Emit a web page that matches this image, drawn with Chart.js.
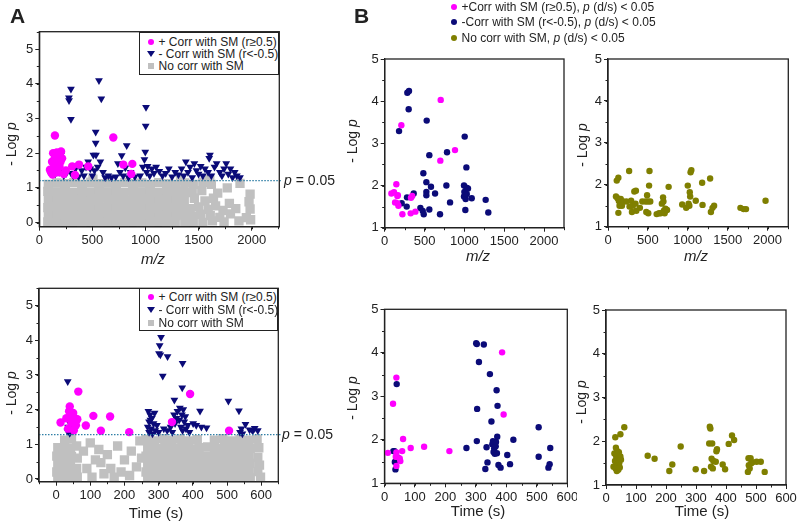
<!DOCTYPE html>
<html>
<head>
<meta charset="utf-8">
<script src="https://cdn.jsdelivr.net/npm/chart.js@4.4.0/dist/chart.umd.min.js"></script>
<style>
    body {
        margin: 0;
        background: #fff;
        width: 799px;
        height: 522px;
        position: relative;
        overflow: hidden;
        font-family: 'Liberation Sans', Arial, sans-serif;
        color: #222;
    }
    canvas { position: absolute; }
    .t { position: absolute; white-space: nowrap; line-height: 1; }
    .c { transform: translate(-50%, -50%); }
    .r { transform: translate(-50%, -50%) rotate(-90deg); }
    .box {
        position: absolute;
        box-sizing: border-box;
        border: 1.3px solid #222;
        background: #fff;
    }
    .row { position: absolute; transform: translateY(-50%); font-size: 12px; white-space: nowrap; line-height: 1; }
    .mk { position: absolute; transform: translate(-50%, -50%); }
    .dot { width: 6px; height: 6px; border-radius: 50%; }
    .tri { width: 0; height: 0; border-left: 4px solid transparent; border-right: 4px solid transparent; border-top: 6px solid #0b0b78; }
    .sq { width: 6px; height: 6px; background: #c0c0c0; }
</style>
</head>
<body>
<canvas id="aMz"></canvas>
<canvas id="aTime"></canvas>
<canvas id="bPosNegMz"></canvas>
<canvas id="bNoneMz"></canvas>
<canvas id="bPosNegTime"></canvas>
<canvas id="bNoneTime"></canvas>

<div class="t" style="left:10px;top:5px;font-size:21px;font-weight:bold">A</div>
<div class="t" style="left:354px;top:5px;font-size:21px;font-weight:bold">B</div>

<!-- axis titles -->
<div class="t r" style="left:11px;top:144px;font-size:14px">- Log <i>p</i></div>
<div class="t r" style="left:11px;top:393px;font-size:14px">- Log <i>p</i></div>
<div class="t r" style="left:352px;top:141px;font-size:14px">- Log <i>p</i></div>
<div class="t r" style="left:582px;top:145px;font-size:14px">- Log <i>p</i></div>
<div class="t r" style="left:352px;top:398px;font-size:14px">- Log <i>p</i></div>
<div class="t r" style="left:581px;top:402px;font-size:14px">- Log <i>p</i></div>
<div class="t c" style="left:153px;top:258px;font-size:15px"><i>m/z</i></div>
<div class="t c" style="left:156px;top:512px;font-size:15px">Time (s)</div>
<div class="t c" style="left:478px;top:255px;font-size:15px"><i>m/z</i></div>
<div class="t c" style="left:696px;top:255px;font-size:15px"><i>m/z</i></div>
<div class="t c" style="left:478px;top:510px;font-size:15px">Time (s)</div>
<div class="t c" style="left:702px;top:510px;font-size:15px">Time (s)</div>

<!-- p = 0.05 labels -->
<div class="t" style="left:284px;top:173px;font-size:14px"><i>p</i> = 0.05</div>
<div class="t" style="left:282px;top:427px;font-size:14px"><i>p</i> = 0.05</div>

<!-- legends of A -->
<div class="box" style="left:139px;top:31.7px;width:140.3px;height:43.5px">
    <div class="mk dot" style="left:11px;top:9.5px;background:#ff00ff"></div>
    <div class="row" style="left:18.5px;top:9.5px">+ Corr with SM (r≥0.5)</div>
    <div class="mk tri" style="left:11px;top:21px"></div>
    <div class="row" style="left:18.5px;top:21px">- Corr with SM (r&lt;-0.5)</div>
    <div class="mk sq" style="left:11px;top:33px"></div>
    <div class="row" style="left:18.5px;top:33px">No corr with SM</div>
</div>
<div class="box" style="left:139px;top:288.3px;width:139.3px;height:43px">
    <div class="mk dot" style="left:11px;top:8px;background:#ff00ff"></div>
    <div class="row" style="left:18.5px;top:8px">+ Corr with SM (r≥0.5)</div>
    <div class="mk tri" style="left:11px;top:21px"></div>
    <div class="row" style="left:18.5px;top:21px">- Corr with SM (r&lt;-0.5)</div>
    <div class="mk sq" style="left:11px;top:33.5px"></div>
    <div class="row" style="left:18.5px;top:33.5px">No corr with SM</div>
</div>

<!-- legend of B -->
<div class="mk dot" style="left:454px;top:6.5px;background:#ff00ff"></div>
<div class="row" style="left:461.5px;top:6.5px">+Corr with SM (r≥0.5), <i>p</i> (d/s) &lt; 0.05</div>
<div class="mk dot" style="left:454px;top:22px;background:#0b0b78"></div>
<div class="row" style="left:461.5px;top:22px">-Corr with SM (r&lt;-0.5), <i>p</i> (d/s) &lt; 0.05</div>
<div class="mk dot" style="left:454px;top:38px;background:#7f7f00"></div>
<div class="row" style="left:461.5px;top:38px">No corr with SM, <i>p</i> (d/s) &lt; 0.05</div>

<script>
// ---- tick labels
const mzTicks = [0, 500, 1000, 1500, 2000]
const timeTicks = [0, 100, 200, 300, 400, 500, 600]
const logTicksA = [0, 1, 2, 3, 4, 5]
const logTicksB = [1, 2, 3, 4, 5]

// ---- A, m/z  [m/z, -log p]
const corrPosMz = [
    [100, 1.52], [110, 1.45], [120, 1.75], [125, 1.38], [130, 2.0], [140, 1.62], [145, 1.85],
    [147, 2.51], [150, 1.55], [160, 1.8], [165, 2.02], [170, 1.7], [175, 1.45], [185, 1.9],
    [190, 1.62], [200, 1.75], [205, 2.05], [215, 1.85], [230, 1.4], [250, 1.5], [310, 1.62],
    [336, 1.37], [374, 1.67], [461, 1.62], [697, 2.45], [791, 1.67], [866, 1.4], [876, 1.69],
]
const corrNegMz = [
    [120, 1.55], [150, 1.4], [175, 1.95], [190, 1.45], [205, 1.95], [230, 1.35], [255, 1.42],
    [279, 3.6], [280, 3.52], [298, 3.85], [298, 2.98], [300, 1.42], [320, 1.35], [340, 1.55],
    [370, 1.32], [400, 1.5], [420, 1.35], [440, 1.6], [460, 1.75], [480, 1.55], [500, 1.35],
    [509, 1.95], [520, 1.5], [531, 2.61], [531, 2.29], [534, 1.95], [550, 1.6], [562, 4.09],
    [575, 1.75], [584, 3.57], [600, 1.45], [620, 1.3], [650, 1.35], [680, 1.3], [720, 1.32],
    [740, 1.7], [760, 1.45], [776, 1.93], [790, 1.35], [810, 1.58], [823, 2.22], [840, 1.3],
    [860, 1.45], [900, 1.32], [950, 1.35], [975, 1.6], [990, 1.82], [998, 2.03], [1002, 2.78],
    [1005, 3.32], [1010, 1.45], [1020, 1.62], [1040, 1.35], [1060, 1.55], [1080, 1.42],
    [1100, 1.6], [1130, 1.48], [1160, 1.35], [1190, 1.42], [1220, 1.55], [1250, 1.32],
    [1280, 1.45], [1310, 1.38], [1340, 1.55], [1360, 1.35], [1380, 1.75], [1400, 1.45],
    [1420, 1.6], [1440, 1.3], [1460, 1.7], [1480, 1.5], [1500, 1.4], [1520, 1.62], [1540, 1.35],
    [1560, 1.55], [1590, 1.45], [1600, 1.85], [1607, 1.95], [1620, 1.35], [1650, 1.6],
    [1670, 1.7], [1700, 1.45], [1720, 1.35], [1740, 1.55], [1760, 1.7], [1780, 1.4], [1800, 1.55],
    [1820, 1.3], [1840, 1.45], [1860, 1.35], [1890, 1.3],
]
const noCorrMz = [
    [85, 1.1], [165, 1.14], [245, 1.12], [325, 1.15], [405, 1.1], [485, 1.16], [505, 1.25], [565, 1.12],
    [645, 1.14], [725, 1.1], [805, 1.15], [885, 1.12], [965, 1.14], [1045, 1.1], [1125, 1.15],
    [1205, 1.12], [1285, 1.1], [1330, 1.22], [1370, 1.14], [1450, 1.1], [1540, 1.16], [1605, 1.25],
    [1620, 1.1], [1890, 1.13],
    [80, 0.9], [160, 0.88], [240, 0.9], [320, 0.87], [400, 0.9], [480, 0.88], [560, 0.91], [640, 0.88],
    [720, 0.9], [800, 0.87], [880, 0.9], [960, 0.88], [1040, 0.9], [1120, 0.87], [1200, 0.9],
    [1280, 0.88], [1360, 0.9], [1440, 0.86], [1530, 0.92], [1680, 0.85], [1770, 1.0], [1985, 0.82],
    [85, 0.66], [165, 0.68], [245, 0.65], [325, 0.67], [405, 0.64], [485, 0.66], [565, 0.68],
    [645, 0.65], [725, 0.67], [805, 0.64], [885, 0.66], [965, 0.68], [1045, 0.65], [1125, 0.67],
    [1205, 0.64], [1285, 0.66], [1365, 0.63], [1460, 0.7], [1560, 0.62], [1640, 0.7], [1790, 0.55],
    [1975, 0.6],
    [80, 0.43], [160, 0.45], [240, 0.42], [320, 0.44], [400, 0.41], [480, 0.43], [560, 0.45],
    [640, 0.42], [720, 0.44], [800, 0.41], [880, 0.43], [960, 0.45], [1040, 0.42], [1120, 0.44],
    [1200, 0.41], [1280, 0.43], [1350, 0.45], [1420, 0.4], [1500, 0.45], [1590, 0.38], [1660, 0.48],
    [1730, 0.35], [1850, 0.4], [1985, 0.39],
    [85, 0.2], [165, 0.22], [245, 0.19], [325, 0.21], [405, 0.18], [485, 0.2], [565, 0.22], [645, 0.19],
    [725, 0.21], [805, 0.18], [885, 0.2], [965, 0.22], [1045, 0.19], [1125, 0.21], [1205, 0.18],
    [1285, 0.2], [1360, 0.22], [1440, 0.18], [1520, 0.24], [1610, 0.2], [1700, 0.15], [1800, 0.25],
    [1950, 0.14],
    [80, 0.02], [160, 0], [240, 0.01], [320, 0.03], [400, 0], [480, 0.02], [560, 0], [640, 0.01],
    [720, 0.03], [800, 0], [880, 0.02], [960, 0], [1040, 0.01], [1120, 0.03], [1200, 0], [1280, 0.02],
    [1370, 0], [1450, 0.03], [1540, 0], [1630, 0.05], [1740, 0.02], [1880, 0.05], [1990, 0.08],
]

// ---- A, time  [s, -log p]
const corrPosTime = [
    [13, 1.63], [30, 1.75], [35, 1.45], [38, 1.95], [40, 2.09], [42, 1.8], [45, 1.62], [48, 1.75],
    [50, 1.9], [52, 1.4], [55, 1.75], [58, 1.55], [62, 1.72], [65, 2.52], [87, 1.54], [109, 1.82],
    [131, 1.39], [158, 1.8], [214, 1.35], [339, 1.64], [392, 2.45], [506, 1.39],
]
const corrNegTime = [
    [34, 2.81], [40, 2.04], [38, 1.65], [45, 1.6], [35, 1.5], [42, 1.45], [33, 1.38], [40, 1.32],
    [48, 1.55], [55, 1.62], [50, 1.4],
    [270, 1.95], [275, 1.85], [280, 1.75], [272, 1.65], [285, 1.6], [268, 1.5], [278, 1.45],
    [290, 1.4], [272, 1.35], [282, 1.3], [295, 1.55], [288, 1.9], [276, 1.7], [300, 1.35],
    [307, 4.09], [303, 3.85], [301, 3.62], [305, 3.58], [326, 3.53], [312, 2.97], [370, 3.34],
    [369, 2.63], [346, 2.28],
    [315, 1.45], [325, 1.4], [335, 1.5], [340, 1.35], [345, 1.85], [348, 1.6], [352, 1.75],
    [355, 1.95], [360, 1.7], [362, 2.05], [365, 1.5], [368, 1.85], [370, 1.4], [372, 2.0],
    [375, 1.65], [378, 1.8], [380, 1.45], [385, 1.55], [390, 1.35],
    [401, 1.6], [410, 1.55], [421, 1.96], [425, 1.5], [440, 1.48], [504, 2.25], [535, 1.97],
    [538, 1.35], [542, 1.45], [545, 1.3], [554, 1.58], [566, 1.42], [575, 1.38], [581, 1.46], [590, 1.4],
]
const noCorrTime = [
    [5, 0.9], [25, 1.12], [45, 1.15], [2, 0.66], [22, 0.89], [42, 0.88], [60, 0.95], [5, 0.43],
    [25, 0.66], [45, 0.65], [62, 0.6], [2, 0.2], [22, 0.43], [42, 0.43], [60, 0.3], [5, 0],
    [25, 0.2], [45, 0.2], [22, 0], [45, 0], [62, 0.05],
    [80, 0.8], [90, 0.3], [100, 1.04], [105, 0.05], [115, 0.55], [125, 0.85], [131, 0.47],
    [140, 0.15], [150, 0.7], [160, 0.3], [170, 0.05], [180, 0.95], [190, 0.2], [200, 0.55],
    [215, 0.1], [220, 0.8], [235, 0.35], [245, 1.1], [250, 0.6],
    [263, 1.14], [288, 1.1], [313, 1.16], [338, 1.12], [363, 1.15], [388, 1.1], [413, 1.13],
    [463, 1.12], [488, 1.16], [513, 1.1], [538, 1.14], [563, 1.12], [588, 1.15],
    [268, 0.9], [293, 0.87], [318, 0.91], [343, 0.88], [368, 0.9], [393, 0.86], [418, 0.9],
    [443, 0.92], [468, 0.88], [493, 0.9], [518, 0.87], [543, 0.91], [568, 0.88], [593, 0.9],
    [263, 0.66], [288, 0.68], [313, 0.64], [338, 0.67], [363, 0.65], [388, 0.68], [413, 0.64],
    [438, 0.66], [463, 0.68], [488, 0.65], [513, 0.67], [538, 0.64], [563, 0.66], [590, 0.62],
    [268, 0.43], [293, 0.41], [318, 0.45], [343, 0.42], [368, 0.44], [393, 0.41], [418, 0.43],
    [443, 0.45], [468, 0.42], [493, 0.44], [518, 0.41], [543, 0.43], [568, 0.45], [595, 0.4],
    [263, 0.2], [288, 0.22], [313, 0.18], [338, 0.21], [363, 0.19], [388, 0.22], [413, 0.2],
    [438, 0.18], [463, 0.21], [488, 0.19], [513, 0.22], [538, 0.2], [563, 0.18], [590, 0.21],
    [268, 0.02], [293, 0], [318, 0.03], [343, 0.01], [368, 0], [393, 0.02], [418, 0], [443, 0.03],
    [468, 0.01], [493, 0], [518, 0.02], [543, 0], [568, 0.03], [598, 0.05],
]

// ---- B, m/z
const sigPosMz = [
    [84, 1.81], [117, 1.84], [130, 1.6], [146, 2.03], [159, 1.75], [165, 1.77], [159, 1.58],
    [172, 1.52], [209, 3.43], [222, 1.32], [326, 1.34], [330, 1.71], [345, 1.75], [385, 1.38],
    [698, 2.59], [703, 4.03], [882, 2.84],
]
const sigNegMz = [
    [180, 3.29], [213, 1.58], [276, 1.5], [280, 1.72], [284, 4.2], [301, 3.81], [305, 4.24],
    [364, 1.81], [448, 1.47], [477, 1.4], [485, 2.29], [490, 1.32], [523, 2.08], [523, 1.85],
    [523, 1.77], [527, 3.54], [560, 2.72], [560, 1.43], [581, 1.97], [632, 1.81], [694, 1.32],
    [774, 2.0], [782, 2.79], [820, 1.6], [995, 2.0], [995, 1.74], [1000, 1.85], [1004, 3.16],
    [1012, 1.42], [1016, 1.68], [1025, 2.43], [1025, 1.95], [1030, 1.8], [1045, 1.93],
    [1092, 1.7], [1267, 1.66], [1300, 1.36],
]
const sigNoneMz = [
    [110, 2.1], [130, 2.17], [100, 1.72], [120, 1.68], [135, 1.62], [150, 1.55], [160, 1.66],
    [175, 1.5], [190, 1.6], [130, 1.33], [145, 1.5], [230, 1.6], [265, 2.33], [270, 1.48],
    [290, 1.62], [300, 1.35], [310, 1.5], [330, 1.84], [350, 1.86], [345, 1.55], [355, 1.38],
    [400, 1.45], [430, 1.6], [470, 1.6], [480, 1.35], [490, 1.75], [500, 1.6], [505, 1.32],
    [515, 1.98], [520, 2.33], [530, 1.6], [610, 1.3], [640, 1.32], [660, 1.32], [675, 1.55],
    [690, 1.7], [695, 1.6], [700, 1.38], [710, 1.32], [720, 1.43], [740, 1.4], [760, 1.95],
    [930, 1.53], [980, 1.45], [1000, 1.98], [1010, 1.55], [1025, 1.82], [1030, 1.72], [1035, 2.3],
    [1045, 2.35], [1020, 1.5], [1100, 1.62], [1180, 2.05], [1185, 1.52], [1280, 2.15], [1290, 1.35],
    [1310, 1.45], [1330, 1.5], [1660, 1.45], [1700, 1.42], [1730, 1.42], [1975, 1.62],
]

// ---- B, time
const sigPosTime = [
    [11, 1.7], [28, 2.83], [37, 1.61], [39, 3.43], [39, 1.71], [39, 1.4], [40, 1.61], [50, 1.57],
    [52, 1.51], [58, 1.74], [61, 2.02], [86, 1.81], [130, 1.84], [213, 1.74], [386, 4.01], [391, 2.58],
]
const sigNegTime = [
    [29, 1.74], [33, 1.74], [34, 1.49], [36, 1.32], [40, 3.28], [44, 1.59], [269, 1.81], [301, 4.22],
    [303, 4.2], [303, 1.97], [304, 2.71], [310, 3.79], [326, 4.19], [331, 1.33], [335, 1.83],
    [338, 1.48], [346, 3.51], [351, 2.42], [354, 1.9], [356, 1.97], [358, 1.72], [360, 1.8],
    [362, 1.68], [365, 1.85], [366, 1.95], [368, 3.14], [369, 1.69], [370, 2.07], [371, 2.78],
    [374, 1.42], [381, 1.36], [403, 1.65], [412, 1.44], [423, 2.0], [506, 2.29], [506, 1.61],
    [538, 1.36], [542, 1.44], [544, 1.81],
]
const sigNoneTime = [
    [25, 1.42], [28, 1.72], [30, 1.55], [31, 2.09], [32, 1.38], [33, 1.85], [34, 1.65], [35, 1.48],
    [36, 1.32], [37, 1.78], [38, 1.6], [39, 1.42], [40, 1.7], [41, 1.35], [42, 1.55], [43, 1.75],
    [44, 1.5], [45, 1.62], [46, 1.4], [48, 1.65], [48, 2.16], [50, 1.58], [61, 2.32],
    [139, 1.67], [162, 1.6], [211, 1.32], [221, 1.47], [249, 1.88], [299, 1.36], [327, 1.32],
    [344, 1.95], [346, 2.33], [348, 2.29], [350, 1.42], [352, 1.6], [354, 1.95], [356, 1.38],
    [358, 1.55], [366, 1.53], [368, 1.77], [370, 1.82], [389, 1.47], [397, 1.36], [409, 1.94],
    [420, 2.13], [427, 2.03], [473, 1.3], [475, 1.61], [476, 1.45], [479, 1.38], [482, 1.61],
    [484, 1.5], [488, 1.52], [502, 1.53], [516, 1.53], [529, 1.3],
]

const MAGENTA = '#ff00ff'
const NAVY = '#0b0b78'
const GRAY = '#c0c0c0'
const OLIVE = '#7f7f00'
const INK = '#222'
const FONT = "'Liberation Sans', Arial, sans-serif"

// frame around the plot area
const frame = {
    id: 'frame',
    afterDraw(chart) {
        const { ctx, chartArea: a } = chart
        ctx.save()
        ctx.strokeStyle = INK
        ctx.lineWidth = 1.3
        ctx.strokeRect(a.left, a.top, a.right - a.left, a.bottom - a.top)
        ctx.restore()
    },
}

// short unlabeled ticks between the labeled ones
const minorTicks = {
    id: 'minorTicks',
    afterDraw(chart, args, opts) {
        if (!opts.x) return
        const { ctx, chartArea: a, scales: { x, y } } = chart
        ctx.save()
        ctx.strokeStyle = INK
        ctx.lineWidth = 1
        ctx.beginPath()
        for (let v = Math.ceil(x.min / opts.x) * opts.x; v <= x.max; v += opts.x) {
            const px = Math.round(x.getPixelForValue(v)) + 0.5
            ctx.moveTo(px, a.bottom)
            ctx.lineTo(px, a.bottom + 2.5)
        }
        for (let v = Math.ceil(y.min / opts.y) * opts.y; v <= y.max; v += opts.y) {
            const py = Math.round(y.getPixelForValue(v)) + 0.5
            ctx.moveTo(a.left, py)
            ctx.lineTo(a.left - 2.5, py)
        }
        ctx.stroke()
        ctx.restore()
    },
}

// dotted p = 0.05 line
const threshold = {
    id: 'threshold',
    afterDatasetsDraw(chart, args, opts) {
        if (opts.value == null) return
        const { ctx, chartArea: a, scales: { y } } = chart
        const py = y.getPixelForValue(opts.value)
        ctx.save()
        ctx.strokeStyle = '#2f7fa6'
        ctx.lineWidth = 1.2
        ctx.setLineDash([1.5, 1.5])
        ctx.beginPath()
        ctx.moveTo(a.left, py)
        ctx.lineTo(a.right + 3, py)
        ctx.stroke()
        ctx.restore()
    },
}

function pointSet(data, color, style, radius, rotation) {
    return {
        data: data.map(([x, y]) => ({ x, y })),
        pointStyle: style,
        pointRadius: radius,
        pointRotation: rotation || 0,
        pointBackgroundColor: color,
        pointBorderColor: color,
        pointBorderWidth: 0,
        pointHoverRadius: radius,
    }
}

function axis(min, max, ticks, extra) {
    return Object.assign({
        type: 'linear',
        min: min,
        max: max,
        afterBuildTicks: scale => {
            scale.ticks = ticks.map(v => ({ value: v }))
        },
        ticks: {
            color: INK,
            font: { family: FONT, size: 13 },
            padding: 2,
            maxRotation: 0,
            autoSkip: false,
            callback: v => String(v),
        },
        grid: {
            drawOnChartArea: false,
            drawTicks: true,
            tickLength: 4,
            color: INK,
            lineWidth: 1,
        },
        border: { display: true, color: INK, width: 1.3 },
    }, extra)
}

// canvas at [left, top, width, height], plot area at [left, top, right, bottom]
function makePanel(id, canvasBox, area, opt) {
    const [cl, ct, cw, ch] = canvasBox
    const [l, t, r, b] = area
    const canvas = document.getElementById(id)
    canvas.width = cw
    canvas.height = ch
    canvas.style.left = cl + 'px'
    canvas.style.top = ct + 'px'
    canvas.style.width = cw + 'px'
    canvas.style.height = ch + 'px'

    return new Chart(canvas, {
        type: 'scatter',
        data: { datasets: opt.datasets },
        options: {
            responsive: false,
            animation: false,
            devicePixelRatio: 1,
            events: [],
            layout: { padding: { left: 0, top: t - ct, right: cl + cw - r, bottom: 0 } },
            plugins: {
                legend: { display: false },
                tooltip: { enabled: false },
                minorTicks: opt.minor,
                threshold: { value: opt.threshold },
            },
            scales: {
                x: axis(opt.x[0], opt.x[1], opt.xTicks, {
                    afterFit: scale => {
                        scale.height = ct + ch - b
                        scale.paddingLeft = 0
                        scale.paddingRight = 0
                    },
                }),
                y: axis(opt.y[0], opt.y[1], opt.yTicks, {
                    afterFit: scale => {
                        scale.width = l - cl
                        scale.paddingTop = 0
                        scale.paddingBottom = 0
                    },
                }),
            },
        },
        plugins: [frame, minorTicks, threshold],
    })
}

makePanel('aMz', [0, 20, 292, 240], [39.3, 31.7, 279.3, 226.7], {
    x: [0, 2260], xTicks: mzTicks, y: [-0.12, 5.5], yTicks: logTicksA,
    minor: { x: 250, y: 0.5 },
    threshold: 1.21,
    datasets: [
        pointSet(corrPosMz, MAGENTA, 'circle', 4.2),
        pointSet(corrNegMz, NAVY, 'triangle', 4.5, 180),
        pointSet(noCorrMz, GRAY, 'rect', 6.6),
    ],
})

makePanel('aTime', [0, 278, 292, 230], [39, 288.3, 278.3, 481.7], {
    x: [-50, 650], xTicks: timeTicks, y: [-0.08, 5.5], yTicks: logTicksA,
    minor: { x: 50, y: 0.5 },
    threshold: 1.28,
    datasets: [
        pointSet(corrPosTime, MAGENTA, 'circle', 4.2),
        pointSet(corrNegTime, NAVY, 'triangle', 4.5, 180),
        pointSet(noCorrTime, GRAY, 'rect', 6.6),
    ],
})

makePanel('bPosNegMz', [355, 48, 222, 205], [384.7, 59, 564, 227.7], {
    x: [0, 2250], xTicks: mzTicks, y: [1, 5], yTicks: logTicksB,
    minor: { x: 250, y: 0.5 },
    datasets: [
        pointSet(sigPosMz, MAGENTA, 'circle', 3.2),
        pointSet(sigNegMz, NAVY, 'circle', 3.2),
    ],
})

makePanel('bNoneMz', [580, 48, 219, 205], [608, 59, 788.3, 226.7], {
    x: [0, 2260], xTicks: mzTicks, y: [1, 5], yTicks: logTicksB,
    minor: { x: 250, y: 0.5 },
    datasets: [pointSet(sigNoneMz, OLIVE, 'circle', 3.2)],
})

makePanel('bPosNegTime', [355, 298, 222, 205], [384.5, 309.3, 567.3, 483.3], {
    x: [0, 600], xTicks: timeTicks, y: [1, 5], yTicks: logTicksB,
    minor: { x: 50, y: 0.5 },
    datasets: [
        pointSet(sigPosTime, MAGENTA, 'circle', 3.2),
        pointSet(sigNegTime, NAVY, 'circle', 3.2),
    ],
})

makePanel('bNoneTime', [580, 298, 219, 205], [606, 310, 786, 485], {
    x: [0, 600], xTicks: timeTicks, y: [1, 5], yTicks: logTicksB,
    minor: { x: 50, y: 0.5 },
    datasets: [pointSet(sigNoneTime, OLIVE, 'circle', 3.2)],
})
</script>
</body>
</html>
